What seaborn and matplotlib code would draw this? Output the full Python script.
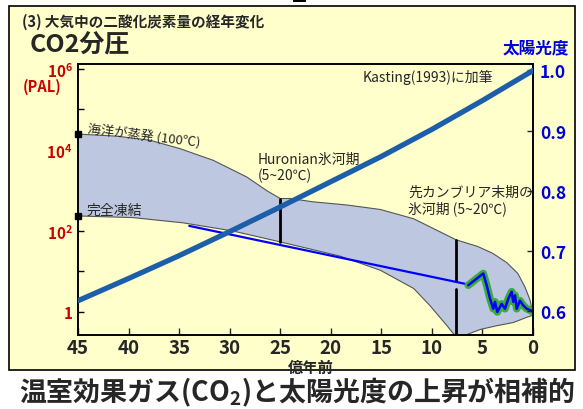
import numpy as np
import matplotlib
matplotlib.use("Agg")
import matplotlib.pyplot as plt
from matplotlib.patches import Rectangle
from matplotlib.ticker import FixedLocator, NullFormatter
import seaborn as sns

# ---- data -------------------------------------------------------------
# age axis: 100 Myr units (億年前)
x_ticks = [45, 40, 35, 30, 25, 20, 15, 10, 5, 0]

# solar luminosity relative to present
sun_age = [45, 40, 35, 30, 25, 20, 15, 10, 5, 0]
sun_lum = [0.617, 0.654, 0.692, 0.732, 0.773, 0.815, 0.857, 0.902, 0.950, 1.0]

# CO2 band limits, log10(PAL)
upper_age = [45, 41.2, 37.9, 34.9, 31.6, 28.3, 26.3, 25.0, 24.0, 21.8, 18.4, 15.1,
             11.8, 7.6, 5.5, 4.0, 2.6, 1.5, 0.8, 0.3, 0]
upper_log = [4.39, 4.34, 4.24, 4.03, 3.74, 3.33, 2.99, 2.80, 2.80, 2.72, 2.64, 2.53,
             2.30, 1.78, 1.62, 1.45, 1.22, 0.95, 0.62, 0.30, -0.05]
lower_age = [45, 39.6, 34.6, 29.7, 25.0, 19.1, 15.1, 11.8, 10.2, 8.5, 7.6, 7.0,
             5.2, 3.6, 1.95, 0.6, 0]
lower_log = [2.37, 2.33, 2.20, 2.00, 1.73, 1.38, 1.03, 0.58, 0.16, -0.34, -0.62, -0.60,
             -0.43, -0.34, -0.26, -0.13, -0.08]

# estimated CO2 trend, log10(PAL)
trend_age = [34.0, 6.33]
trend_log = [2.125, 0.675]

# Phanerozoic CO2 record, log10(PAL)
rec_age = [6.40, 4.92, 4.58, 4.25, 3.93, 3.76, 3.53, 3.10, 2.77, 2.44, 2.11, 1.95,
           1.78, 1.61, 1.29, 0.96, 0.62, 0.13, 0]
rec_log = [0.66, 0.95, 0.66, 0.33, 0.08, 0.25, 0.00, 0.20, 0.08, 0.33, 0.50, 0.25,
           0.41, 0.08, 0.28, 0.16, 0.08, 0.03, 0.00]

# glaciations: age, log10 range(s)
huronian_age = 25.0
huronian_span = [(1.73, 2.80)]
late_pc_age = 7.6
late_pc_span = [(-0.62, 0.56), (0.76, 1.78)]

left_ticks = [0, 2, 4, 6]
left_labels = ["1", r"$\mathbf{10^{2}}$", r"$\mathbf{10^{4}}$", r"$\mathbf{10^{6}}$"]
right_ticks = [0.6, 0.7, 0.8, 0.9, 1.0]
right_labels = ["0.6", "0.7", "0.8", "0.9", "1.0"]

# ---- style ------------------------------------------------------------
sns.set_theme(style="ticks")
JP = "Noto Sans CJK JP"
plt.rcParams["font.family"] = [JP, "DejaVu Sans"]
plt.rcParams["mathtext.fontset"] = "custom"
plt.rcParams["mathtext.rm"] = JP
plt.rcParams["mathtext.bf"] = JP + ":bold"
plt.rcParams["mathtext.it"] = JP

BG = "#FFFFCC"
BAND = "#BDC8E0"
SUN = "#1D5EAA"
RED = "#CC0000"
BLUE = "#0000DD"

W, H = 583, 410
fig = plt.figure(figsize=(W / 100, H / 100), dpi=100, facecolor="white")


def fx(x):
    return x / W


def fy(y):
    return 1 - y / H


# framed pale-yellow panel behind everything
fig.patches.append(Rectangle((fx(9), fy(371)), fx(575) - fx(9), fy(7) - fy(371),
                             transform=fig.transFigure, facecolor=BG,
                             edgecolor="black", lw=1.2, zorder=-5))
fig.patches.append(Rectangle((fx(293), fy(3)), fx(306) - fx(293), fy(0) - fy(3),
                             transform=fig.transFigure, facecolor="black",
                             edgecolor="none", zorder=-5))

ax = fig.add_axes([fx(78), fy(336), fx(533) - fx(78), fy(65) - fy(336)])
ax.set_facecolor(BG)
ax2 = ax.twinx()

# ---- CO2 panel --------------------------------------------------------
ax.set_yscale("log")
band_x = np.r_[upper_age, lower_age[::-1]]
band_y = 10 ** np.r_[upper_log, lower_log[::-1]]
ax.fill(band_x, band_y, color=BAND, lw=0, zorder=1)
ax.plot(upper_age, 10 ** np.array(upper_log), color="#555555", lw=0.8, zorder=2)
ax.plot(lower_age, 10 ** np.array(lower_log), color="#555555", lw=0.8, zorder=2)

ax.plot([upper_age[0], lower_age[0]], [10 ** upper_log[0], 10 ** lower_log[0]],
        ls="none", marker="s", ms=5, color="black", clip_on=False, zorder=5)

for lo, hi in huronian_span:
    ax.plot([huronian_age, huronian_age], [10 ** lo, 10 ** hi], color="black", lw=2, zorder=3)
for lo, hi in late_pc_span:
    ax.plot([late_pc_age, late_pc_age], [10 ** lo, 10 ** hi], color="black", lw=2, zorder=3)

sns.lineplot(x=trend_age, y=10 ** np.array(trend_log), ax=ax, color="#0000FF",
             lw=1.6, sort=False, estimator=None, zorder=4)
sns.lineplot(x=rec_age, y=10 ** np.array(rec_log), ax=ax, color="#3DAA3D",
             lw=5.5, sort=False, estimator=None, zorder=4, solid_capstyle="round",
             solid_joinstyle="round")
sns.lineplot(x=rec_age, y=10 ** np.array(rec_log), ax=ax, color="#0000FF",
             lw=1.8, sort=False, estimator=None, zorder=5)

ax.set_xlim(45, 0)
ax.set_ylim(10 ** -0.568, 10 ** 6.12)
ax.set_yticks([10 ** v for v in left_ticks])
ax.set_yticklabels(left_labels)
ax.yaxis.set_minor_locator(FixedLocator([10, 1e3, 1e5]))
ax.yaxis.set_minor_formatter(NullFormatter())
ax.set_xticks(x_ticks)
ax.set_xticklabels([str(t) for t in x_ticks])
ax.tick_params(axis="y", which="both", direction="in", length=4.5, width=1,
               colors="black", labelcolor=RED, labelsize=11, pad=4)
ax.tick_params(axis="x", direction="in", length=5, width=1, labelsize=13.5, pad=2)
for lab in ax.get_yticklabels():
    lab.set_fontweight("bold")
for lab in ax.get_xticklabels():
    lab.set_fontweight("bold")
ax.set_xlabel("億年前", fontsize=11, fontweight="bold")
ax.xaxis.set_label_coords(0.512, -0.09)
ax.set_ylabel("")

# ---- solar luminosity -------------------------------------------------
sns.lineplot(x=sun_age, y=sun_lum, ax=ax2, color=SUN, lw=3.8, sort=False,
             estimator=None, zorder=6)
ax2.set_ylim(0.560, 1.0108)
ax2.set_yticks(right_ticks)
ax2.set_yticklabels(right_labels)
ax2.tick_params(axis="y", direction="in", length=4, width=1, labelcolor=BLUE,
                labelsize=12.5, pad=5)
for lab in ax2.get_yticklabels():
    lab.set_fontweight("bold")
ax2.set_ylabel("")
ax2.set_xlim(45, 0)

for a in (ax, ax2):
    for s in a.spines.values():
        s.set_visible(True)
        s.set_color("black")
        s.set_linewidth(1.2)

# ---- annotations ------------------------------------------------------
fig.text(fx(22), fy(22), "(3) 大気中の二酸化炭素量の経年変化", fontsize=10.5,
         fontweight="bold", va="center", ha="left")
fig.text(fx(30), fy(45), "CO2分圧", fontsize=18, fontweight="bold",
         va="center", ha="left")
fig.text(fx(536), fy(48), "太陽光度", fontsize=12, fontweight="bold",
         color=BLUE, va="center", ha="center")
fig.text(fx(23), fy(87), "(PAL)", fontsize=10.5, fontweight="bold",
         color=RED, va="center", ha="left")
fig.text(fx(363), fy(77), "Kasting(1993)に加筆", fontsize=10,
         va="center", ha="left")
fig.text(fx(88), fy(129), "海洋が蒸発 (100℃)", fontsize=9.5, rotation=-7,
         rotation_mode="anchor", va="center", ha="left")
fig.text(fx(87), fy(211), "完全凍結", fontsize=10, va="center", ha="left")
fig.text(fx(258), fy(168), "Huronian氷河期\n(5~20℃)", fontsize=10,
         va="center", ha="left", linespacing=1.1)
fig.text(fx(408), fy(201), "先カンブリア末期の\n氷河期 (5~20℃)", fontsize=10,
         va="center", ha="left", linespacing=1.2)
fig.text(fx(19), fy(392), r"温室効果ガス(CO$_{\mathbf{2}}$)と太陽光度の上昇が相補的",
         fontsize=19.4, fontweight="bold", va="center", ha="left")

fig.savefig("out.png", dpi=100, facecolor="white")
